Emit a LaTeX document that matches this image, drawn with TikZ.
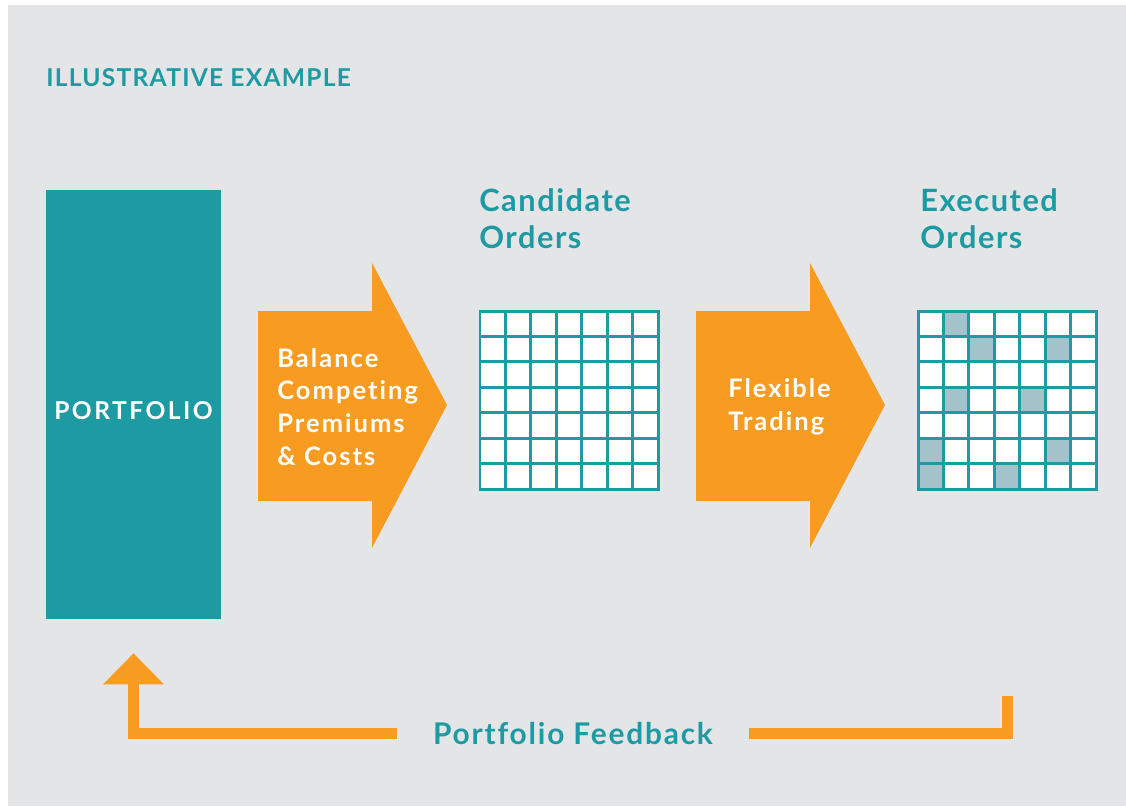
\documentclass[tikz,border=0pt]{standalone}
\usepackage{fontspec}
\setmainfont[Ligatures=CommonOff]{Lato}
\usetikzlibrary{arrows.meta,calc,positioning}
\definecolor{dfteal}{HTML}{1E9AA3}
\definecolor{dforange}{HTML}{F89B21}
\definecolor{dfgray}{HTML}{E4E5E7}
\definecolor{dfcell}{HTML}{A3C2CA}

\begin{document}
\begin{tikzpicture}[x=0.02cm,y=-0.02cm,
    gridline/.style={dfteal,line width=1.7pt,line cap=rect},
    heading/.style={anchor=west,align=left,inner sep=0pt,text=dfteal,font=\bfseries\fontsize{17.5}{21}\selectfont\addfontfeature{LetterSpace=5}},
    arrowtext/.style={anchor=west,align=left,inner sep=0pt,text=white,font=\bfseries\fontsize{14.5}{18.7}\selectfont\addfontfeature{LetterSpace=8}}]
      \def\cell{25.43}
      \useasboundingbox (0,0) rectangle (1126,806);
      \fill[dfgray] (8,5) rectangle (1126,806);
      \node[anchor=west,inner sep=0pt,text=dfteal,font=\bfseries\fontsize{14}{16}\selectfont\addfontfeature{LetterSpace=5}] (title) at (46,77.5) {ILLUSTRATIVE EXAMPLE};
      \node[fill=dfteal,minimum width=3.5cm,minimum height=8.58cm,inner sep=0pt] (portfolio) at (133.5,404.5) {};
      \node[inner sep=0pt,text=white,font=\bfseries\fontsize{14}{15}\selectfont\addfontfeature{LetterSpace=10}] (pflabel) at ($(portfolio)+(0,6)$) {PORTFOLIO};
      % the two process arrows and the two order grids
      \foreach \dx in {0,438}{
        \fill[dforange] (258+\dx,311) -- (372+\dx,311) -- (372+\dx,263) -- (447+\dx,405)
          -- (372+\dx,548) -- (372+\dx,501) -- (258+\dx,501) -- cycle;
      }
      \foreach \dx in {0,438}{
        \fill[white] (480+\dx,311) rectangle ++(178,178);
        \foreach \i in {0,...,7}{
          \draw[gridline] (480+\dx+\i*\cell,311) -- ++(0,178);
          \draw[gridline] (480+\dx,311+\i*\cell) -- ++(178,0);
        }
      }
      \foreach \c/\r in {1/0,2/1,5/1,1/3,4/3,0/5,5/5,0/6,3/6}{
        \fill[dfcell] (918+\c*\cell+1.5,311+\r*\cell+1.5) rectangle ++(\cell-3,\cell-3);
      }
      \node[arrowtext] (balance) at (277,407) {Balance\\Competing\\Premiums\\\& Costs};
      \node[arrowtext] (flexible) at (728,407) {Flexible\\Trading};
      \node[heading] (candidate) at (479,218.5) {Candidate\\Orders};
      \node[heading] (executed) at (920,218.5) {Executed\\Orders};
      % feedback loop back to the portfolio
      \coordinate (fbstart) at (1007.5,696);
      \coordinate (fbend) at ($(portfolio.south)+(0,34)$);
      \draw[dforange,line width=0.22cm,line join=miter,-{Triangle[length=0.62cm,width=1.18cm]}]
        (fbstart) -- (1007.5,733.5) -| (fbend);
      \node[fill=dfgray,minimum width=7.04cm,minimum height=0.5cm,inner sep=0pt,text=dfteal,font=\bfseries\fontsize{17}{20}\selectfont\addfontfeature{LetterSpace=6}] (feedback) at (573,733.5) {Portfolio Feedback};
\end{tikzpicture}
\end{document}
